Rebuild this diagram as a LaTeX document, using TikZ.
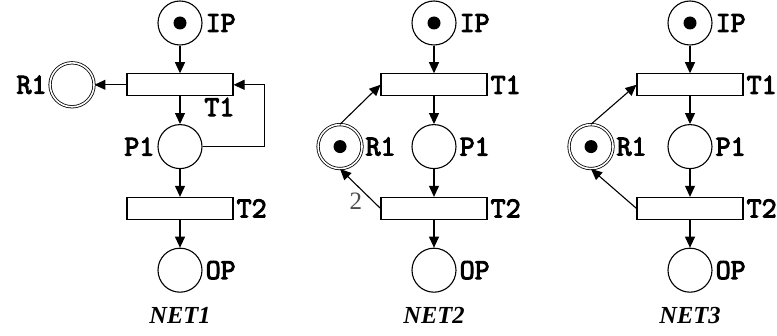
\documentclass[tikz,border=0pt]{standalone}
\usepackage{fontspec}
\setmainfont{Liberation Serif}
\newfontfamily\lblfont{Latin Modern Mono}[FakeBold=3.5]
\usetikzlibrary{positioning}
\usetikzlibrary{arrows.meta}
\tikzset{
    place/.style = {circle, draw=black, line width=1.1pt, minimum size=44pt, inner sep=0pt},
    trans/.style = {rectangle, draw=black, line width=1.1pt, minimum width=106pt, minimum height=22pt, inner sep=0pt},
    res/.style = {circle, draw=black, line width=0.8pt, double, double distance=1.6pt, minimum size=44pt, inner sep=0pt},
    marked/.style = {path picture={\fill[black] (path picture bounding box.center) circle (6.5pt);}},
    edgen/.style = {-{Triangle[length=11pt,width=10pt]}, line width=1.1pt},
    weight/.style = {font=\fontsize{25}{25}\selectfont, text=black!70, inner sep=0pt},
    netname/.style = {font=\fontsize{24.5}{24.5}\selectfont\bfseries\itshape, inner sep=0pt},
    every label/.style = {font=\lblfont\fontsize{29}{29}\selectfont, inner sep=1pt},
    label distance=2pt
}

\begin{document}
\begin{tikzpicture}[x=1pt, y=1pt, node distance=27.7pt]
  \useasboundingbox (0,0) rectangle (777,335);

  % NET1
  \node[place, marked, label={right:IP}] (ipa) at (180,312) {};
  \node[trans, below=of ipa, label={[anchor=north east]south east:T1}] (t1a) {};
  \node[place, below=of t1a, label={left:P1}] (p1a) {};
  \node[trans, below=of p1a, label={right:T2}] (t2a) {};
  \node[place, below=of t2a, label={right:OP}] (opa) {};
  \node[res, left=32pt of t1a, label={left:R1}] (r1a) {};
  \node[netname, anchor=base] (neta) at ([yshift=-31pt]opa.south) {NET1};

  \draw[edgen] (ipa) -- (t1a);
  \draw[edgen] (t1a) -- (p1a);
  \draw[edgen] (p1a) -- (t2a);
  \draw[edgen] (t2a) -- (opa);
  \draw[edgen] (t1a) -- (r1a);
  \draw[edgen] (p1a.east) -| ([xshift=31pt]t1a.east) -- (t1a.east);

  % NET2
  \node[place, marked, label={right:IP}] (ipb) at (434,312) {};
  \node[trans, below=of ipb, label={right:T1}] (t1b) {};
  \node[place, below=of t1b, label={right:P1}] (p1b) {};
  \node[trans, below=of p1b, label={right:T2}] (t2b) {};
  \node[place, below=of t2b, label={right:OP}] (opb) {};
  \node[res, marked, left=49pt of p1b, label={right:R1}] (r1b) {};
  \node[netname, anchor=base] (netb) at ([yshift=-31pt]opb.south) {NET2};

  \draw[edgen] (ipb) -- (t1b);
  \draw[edgen] (t1b) -- (p1b);
  \draw[edgen] (p1b) -- (t2b);
  \draw[edgen] (t2b) -- (opb);
  \draw[edgen] (r1b.north) -- (t1b.west);
  \draw[edgen] (t2b.west) -- (r1b.south)
    node[weight, pos=0.19, anchor=east, xshift=-10pt] {2};

  % NET3
  \node[place, marked, label={right:IP}] (ipc) at (690,312) {};
  \node[trans, below=of ipc, label={right:T1}] (t1c) {};
  \node[place, below=of t1c, label={right:P1}] (p1c) {};
  \node[trans, below=of p1c, label={right:T2}] (t2c) {};
  \node[place, below=of t2c, label={right:OP}] (opc) {};
  \node[res, marked, left=54pt of p1c, label={right:R1}] (r1c) {};
  \node[netname, anchor=base] (netc) at ([yshift=-31pt]opc.south) {NET3};

  \draw[edgen] (ipc) -- (t1c);
  \draw[edgen] (t1c) -- (p1c);
  \draw[edgen] (p1c) -- (t2c);
  \draw[edgen] (t2c) -- (opc);
  \draw[edgen] (r1c.north) -- (t1c.west);
  \draw[edgen] (t2c.west) -- (r1c.south);
\end{tikzpicture}
\end{document}
